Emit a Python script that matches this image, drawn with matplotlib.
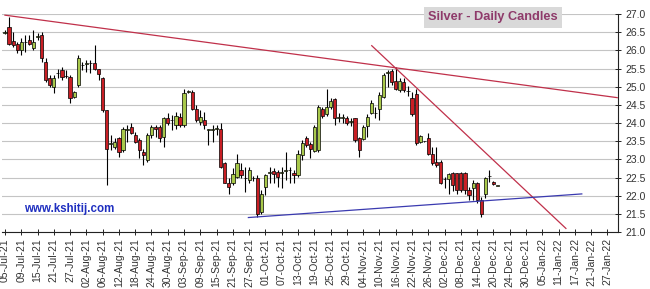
import matplotlib
matplotlib.use("Agg")
import matplotlib.pyplot as plt
import numpy as np

plt.rcParams["font.family"] = ["Liberation Sans", "DejaVu Sans"]

# OHLC por dia util, a partir de 05-Jul-21 (indice 0)
abertura = [
    26.48, 26.64, 26.26, 26.19, 26.01, 26.22, 26.30, 26.06, 26.37, 26.42,
    25.69, 25.23, 25.00, 25.37, 25.46, 25.30, 25.27, 24.71, 25.05, 25.59,
    25.62, 25.64, 25.64, 25.48, 25.23, 24.36, 23.43, 23.35, 23.58, 23.26,
    23.82, 23.90, 23.67, 23.53, 23.21, 22.98, 23.67, 23.90, 23.90, 23.62,
    24.13, 24.08, 23.94, 24.17, 23.94, 24.86, 24.86, 24.38, 24.04, 24.08,
    23.81, 23.82, 23.85, 23.85, 22.89, 22.34, 22.34, 22.52, 22.71, 22.48,
    22.43, 22.48, 22.48, 21.56, 22.25, 22.63, 22.69, 22.66, 22.63, 22.68,
    22.70, 22.63, 22.57, 23.12, 23.60, 23.42, 23.24, 23.26, 24.38, 24.25,
    24.43, 24.65, 24.15, 24.15, 24.15, 24.04, 24.13, 23.58, 23.55, 23.92,
    24.28, 24.27, 24.40, 24.71, 25.38, 25.44, 25.16, 24.91, 25.14, 24.88,
    24.70, 24.80, 23.49, 23.50, 23.58, 23.16, 22.94, 22.94, 22.45, 22.45,
    22.62, 22.62, 22.62, 22.62, 22.17, 22.20, 22.36, 21.88, 22.06, 22.54,
    22.38, 22.27,
]
maxima = [
    26.56, 26.93, 26.51, 26.24, 26.33, 26.42, 26.42, 26.56, 26.47, 26.51,
    25.78, 25.32, 25.32, 25.50, 25.55, 25.46, 25.32, 24.89, 25.87, 25.69,
    25.73, 25.73, 26.15, 25.50, 25.27, 24.36, 23.67, 23.58, 23.62, 23.90,
    23.94, 23.99, 23.76, 23.58, 23.28, 23.72, 23.94, 23.94, 23.94, 24.17,
    24.27, 24.22, 24.31, 24.27, 24.95, 24.91, 24.91, 24.50, 24.36, 24.31,
    23.85, 23.94, 23.94, 23.99, 22.93, 22.48, 22.75, 23.16, 22.89, 22.80,
    22.80, 22.55, 22.57, 22.16, 22.61, 22.80, 22.75, 22.72, 22.80, 23.21,
    22.80, 22.71, 23.26, 23.53, 23.64, 23.49, 23.94, 24.50, 24.45, 24.95,
    24.68, 24.68, 24.27, 24.25, 24.19, 24.13, 24.15, 23.62, 23.94, 24.25,
    24.63, 24.45, 24.86, 25.37, 25.46, 25.48, 25.53, 25.23, 25.23, 25.02,
    24.86, 24.93, 23.68, 23.52, 23.73, 23.35, 23.35, 22.98, 22.52, 22.63,
    22.66, 22.63, 22.64, 22.64, 22.24, 22.43, 22.39, 21.97, 22.52, 22.71,
    22.40, 22.28,
]
minimas = [
    26.45, 26.15, 26.10, 25.92, 25.87, 25.96, 26.15, 26.01, 26.28, 25.69,
    25.14, 25.00, 24.82, 25.23, 25.18, 25.23, 24.54, 24.68, 25.00, 25.46,
    25.41, 25.37, 25.46, 25.18, 24.31, 22.29, 23.26, 23.30, 23.07, 23.21,
    23.49, 23.70, 23.44, 23.03, 22.84, 22.93, 23.58, 23.62, 23.49, 23.35,
    23.94, 23.81, 23.85, 23.90, 23.90, 24.82, 24.36, 24.04, 23.94, 23.85,
    23.39, 23.49, 23.67, 22.75, 22.34, 22.06, 22.29, 22.48, 22.48, 22.11,
    22.34, 22.40, 21.42, 21.49, 22.02, 22.34, 22.34, 22.25, 22.20, 22.43,
    22.34, 22.34, 22.52, 22.98, 23.35, 23.03, 23.21, 23.21, 24.13, 24.19,
    24.40, 23.94, 24.04, 23.99, 23.94, 23.92, 23.49, 23.07, 23.53, 23.62,
    24.25, 24.13, 24.08, 24.68, 25.00, 25.05, 24.91, 24.86, 24.86, 24.74,
    24.19, 23.40, 23.45, 23.48, 23.12, 22.85, 22.80, 22.32, 22.20, 22.06,
    22.14, 22.06, 22.10, 22.06, 21.88, 21.88, 21.79, 21.42, 21.93, 22.39,
    22.29, 22.26,
]
fechamento = [
    26.51, 26.19, 26.15, 26.01, 26.24, 26.24, 26.19, 26.24, 26.38, 25.78,
    25.18, 25.05, 25.23, 25.38, 25.27, 25.29, 24.68, 24.86, 25.78, 25.60,
    25.64, 25.65, 25.50, 25.35, 24.36, 23.30, 23.44, 23.49, 23.21, 23.85,
    23.83, 23.73, 23.49, 23.26, 23.12, 23.67, 23.90, 23.83, 23.58, 24.13,
    23.99, 24.08, 24.19, 23.94, 24.82, 24.86, 24.40, 24.08, 24.17, 23.94,
    23.81, 23.85, 23.85, 22.80, 22.34, 22.25, 22.61, 22.89, 22.57, 22.48,
    22.71, 22.48, 21.51, 22.06, 22.57, 22.63, 22.61, 22.52, 22.63, 22.69,
    22.71, 22.57, 23.16, 23.46, 23.39, 23.28, 23.90, 24.45, 24.19, 24.45,
    24.61, 24.13, 24.16, 24.15, 23.99, 24.04, 23.53, 23.26, 23.90, 24.17,
    24.54, 24.27, 24.77, 25.32, 25.39, 25.14, 24.95, 25.16, 24.91, 24.88,
    24.26, 23.44, 23.64, 23.50, 23.16, 22.89, 22.85, 22.34, 22.45, 22.60,
    22.29, 22.15, 22.17, 22.15, 22.02, 22.36, 21.88, 21.51, 22.48, 22.54,
    22.32, 22.27,
]

rotulos_x = [
    "05-Jul-21", "09-Jul-21", "15-Jul-21", "21-Jul-21", "27-Jul-21",
    "02-Aug-21", "06-Aug-21", "12-Aug-21", "18-Aug-21", "24-Aug-21",
    "30-Aug-21", "03-Sep-21", "09-Sep-21", "15-Sep-21", "21-Sep-21",
    "27-Sep-21", "01-Oct-21", "07-Oct-21", "13-Oct-21", "19-Oct-21",
    "25-Oct-21", "29-Oct-21", "04-Nov-21", "10-Nov-21", "16-Nov-21",
    "22-Nov-21", "26-Nov-21", "02-Dec-21", "08-Dec-21", "14-Dec-21",
    "20-Dec-21", "24-Dec-21", "30-Dec-21", "05-Jan-22", "11-Jan-22",
    "17-Jan-22", "21-Jan-22", "27-Jan-22",
]

# linhas de tendencia: (dia, preco) inicio e fim
linha_topo = [(0.0, 26.97), (150.4, 24.70)]
linha_queda = [(90.1, 26.13), (137.8, 21.10)]
linha_suporte = [(59.8, 21.40), (141.7, 22.05)]

VERMELHO = "#c81e24"
VERDE = "#a8c84a"

fig = plt.figure(figsize=(6.5, 2.89), dpi=100)
ax = fig.add_axes([0.0026, 0.197, 0.9482, 0.7543])

o = np.array(abertura)
h = np.array(maxima)
l = np.array(minimas)
c = np.array(fechamento)
dias = np.arange(len(o))

ax.vlines(dias, l, h, color="black", linewidth=0.8, zorder=3)
base = np.minimum(o, c)
altura = np.maximum(np.abs(c - o), 0.015)
cores = np.where(c >= o, VERDE, VERMELHO)
ax.bar(dias, altura, bottom=base, width=0.78, color=cores,
       edgecolor="black", linewidth=0.5, zorder=4)

for (x1, y1), (x2, y2), cor in [
    (linha_topo[0], linha_topo[1], "#c0304a"),
    (linha_queda[0], linha_queda[1], "#c0304a"),
    (linha_suporte[0], linha_suporte[1], "#3a3ab0"),
]:
    ax.plot([x1, x2], [y1, y2], color=cor, linewidth=0.9, zorder=5)

ax.set_xlim(-0.8, 150.6)
ax.set_ylim(21.0, 27.0)
ax.set_yticks(np.arange(21.0, 27.01, 0.5))
ax.set_yticklabels([f"{v:.1f}" for v in np.arange(21.0, 27.01, 0.5)])
ax.set_xticks(np.arange(0, 4 * len(rotulos_x), 4))
ax.set_xticklabels(rotulos_x, rotation=90)
ax.yaxis.tick_right()
ax.tick_params(axis="both", direction="inout", length=5, width=0.7,
               labelsize=7.5, labelcolor="#333333", color="#222222")
ax.tick_params(axis="x", pad=2)
ax.tick_params(axis="y", pad=3)
ax.grid(axis="y", color="#c4c4c4", linewidth=0.8, zorder=0)
ax.set_axisbelow(True)
for lado in ["left", "top"]:
    ax.spines[lado].set_visible(False)
for lado in ["right", "bottom"]:
    ax.spines[lado].set_color("#222222")
    ax.spines[lado].set_linewidth(0.8)

fig.text(0.7585, 0.94, "Silver - Daily Candles", fontsize=9.2,
         fontweight="bold", color="#8e3a6a", ha="center", va="center",
         bbox=dict(boxstyle="square,pad=0.35", facecolor="#d9d9d9",
                   edgecolor="none"))
fig.text(0.037, 0.277, "www.kshitij.com", fontsize=8.3, fontweight="bold",
         color="#1f2fc0", ha="left", va="center")

fig.savefig("out.png", dpi=100)
